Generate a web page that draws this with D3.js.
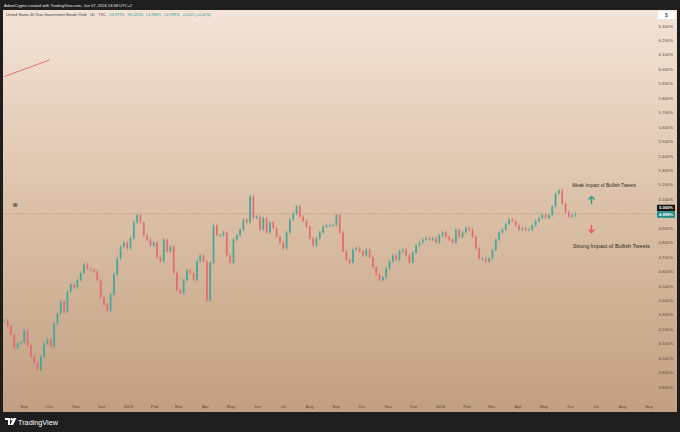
<!DOCTYPE html>
<html><head><meta charset="utf-8">
<script src="https://cdn.jsdelivr.net/npm/d3@7/dist/d3.min.js"></script>
<style>html,body{margin:0;padding:0;background:#1e1e1e;}svg{display:block;}</style>
</head><body>
<svg id="c" width="680" height="432"></svg>
<script>
// ---- data ----
const closes = [
4.26,4.22,4.16,4.07,4.10,4.11,4.19,4.09,4.01,3.97,3.92,4.01,4.10,4.13,4.08,4.24,4.31,4.39,4.32,4.46,
4.51,4.49,4.54,4.59,4.65,4.62,4.61,4.60,4.54,4.42,4.37,4.33,4.44,4.58,4.69,4.77,4.80,4.76,4.83,4.94,
4.99,4.94,4.85,4.82,4.78,4.80,4.70,4.67,4.82,4.74,4.77,4.59,4.47,4.45,4.54,4.61,4.59,4.54,4.67,4.71,
4.67,4.40,4.66,4.92,4.85,4.85,4.87,4.71,4.66,4.82,4.85,4.89,4.96,4.94,5.12,4.97,4.98,4.89,4.97,4.87,
4.94,4.90,4.84,4.80,4.76,4.87,4.96,5.00,5.05,4.98,4.95,4.91,4.83,4.78,4.83,4.87,4.91,4.92,4.92,4.92,
4.99,4.87,4.74,4.68,4.66,4.75,4.76,4.74,4.71,4.75,4.70,4.63,4.58,4.54,4.56,4.62,4.67,4.71,4.68,4.74,
4.75,4.71,4.66,4.73,4.78,4.80,4.82,4.83,4.82,4.83,4.80,4.85,4.87,4.84,4.82,4.80,4.89,4.84,4.87,4.90,
4.89,4.84,4.76,4.69,4.69,4.67,4.69,4.75,4.82,4.87,4.89,4.93,4.96,4.95,4.92,4.89,4.90,4.89,4.89,4.92,
4.95,4.97,4.99,4.97,4.99,5.05,5.14,5.16,5.07,5.01,4.98,4.99,4.999
];
const firstDate = new Date(2022, 7, 9);
const lastDate = new Date(2024, 5, 7);
const yTicks = [3.8,3.9,4.0,4.1,4.2,4.3,4.4,4.5,4.6,4.7,4.8,4.9,5.1,5.2,5.3,5.4,5.5,5.6,5.7,5.8,5.9,6.0,6.1,6.2,6.3];
const lineLevel = 5.0;
const lastPrice = 4.999;
const monthNames = ["Jan","Feb","Mar","Apr","May","Jun","Jul","Aug","Sep","Oct","Nov","Dec"];
const headerText = "AdamCrypto created with TradingView.com, Jun 07, 2024 13:08 UTC+2";
const titleParts = [
  ["United States 30 Year Government Bonds Yield · 1D · TVC", "#3b3b3b"],
  ["O4.979%","#2a9d8f"],["H5.025%","#2a9d8f"],
  ["L4.968%","#2a9d8f"],["C4.999%","#2a9d8f"],["+0.021 (+0.42%)","#2a9d8f"]
];
const trendDates = [new Date(2022,7,9), new Date(2022,9,1)];
const trendVals = [5.95, 6.065];

// ---- chart ----
const svg = d3.select("#c");
const W = 680, H = 432;
const panel = {x:3, y:10, w:674, h:402};
const FONT = "Liberation Sans, Arial, sans-serif";

const x = d3.scaleTime().domain([new Date(2022,8,1), new Date(2024,8,1)]).range([24, 649]);
const y = d3.scaleLinear().domain([3.8, 6.3]).range([387, 26]);

const defs = svg.append("defs");
const g = defs.append("linearGradient").attr("id","bg").attr("x1",0).attr("y1",0).attr("x2",0).attr("y2",1);
g.append("stop").attr("offset","0%").attr("stop-color","#f4e4d8");
g.append("stop").attr("offset","50%").attr("stop-color","#dbc0a7");
g.append("stop").attr("offset","100%").attr("stop-color","#c29f81");

svg.append("rect").attr("width",W).attr("height",H).attr("fill","#1e1e1e");
svg.append("rect").attr("x",panel.x).attr("y",panel.y).attr("width",panel.w).attr("height",panel.h).attr("fill","url(#bg)");

// header
svg.append("text").attr("x",4).attr("y",7).attr("font-family",FONT)
  .attr("font-size",4.4).attr("fill","#e6e6e6").attr("textLength",128).attr("lengthAdjust","spacingAndGlyphs").text(headerText);

// title: pieces laid out one after another, scaled to the reference width
(function(){
  const target = 205, x0 = 6;
  const els = titleParts.map(p => svg.append("text").attr("y",16).attr("font-family",FONT)
      .attr("font-size",4.3).attr("fill",p[1]).text(p[0]));
  const lens = els.map(e => e.node().getComputedTextLength());
  const gaps = titleParts.length - 1;
  const total = d3.sum(lens) + 3*gaps;
  const k = target/total;
  let cx = x0;
  els.forEach((e,i) => {
    e.attr("font-size", 4.3*k).attr("x", cx);
    cx += lens[i]*k + 3*k;
  });
})();

// dollar box
svg.append("rect").attr("x",658).attr("y",11).attr("width",17).attr("height",8).attr("fill","#ffffff").attr("rx",1);
svg.append("text").attr("x",666.5).attr("y",17).attr("text-anchor","middle").attr("font-family",FONT)
  .attr("font-size",5).attr("fill","#333").text("$");

// y axis labels
const fmt = d3.format(".3f");
svg.append("g").selectAll("text").data(yTicks).join("text")
  .attr("x",673).attr("y",d=>y(d)+1.6).attr("text-anchor","end")
  .attr("font-family",FONT).attr("font-size",4.3).attr("fill","#5a4a3e")
  .text(d=>fmt(d)+"%");

// x axis labels
const months = d3.timeMonth.range(new Date(2022,8,1), new Date(2024,8,2));
svg.append("g").selectAll("text").data(months).join("text")
  .attr("x",d=>x(d)).attr("y",408).attr("text-anchor","middle")
  .attr("font-family",FONT).attr("font-size",4.3).attr("fill","#5a4a3e")
  .text(d=>d.getMonth()===0 ? String(d.getFullYear()) : monthNames[d.getMonth()]);

// horizontal dotted line
svg.append("line").attr("x1",panel.x).attr("x2",657).attr("y1",y(lineLevel)).attr("y2",y(lineLevel))
  .attr("stroke","#a8805f").attr("stroke-width",0.6).attr("stroke-dasharray","1,1.2");
svg.append("text").attr("x",13).attr("y",207).attr("font-family",FONT)
  .attr("font-size",4.5).attr("font-weight","bold").attr("fill","#3a3a3a").text("W");

// trend line top-left
svg.append("line").attr("x1",x(trendDates[0])).attr("y1",y(trendVals[0])).attr("x2",x(trendDates[1])).attr("y2",y(trendVals[1]))
  .attr("stroke","#e05555").attr("stroke-width",0.8);

// candles
const N = closes.length;
const step = (lastDate - firstDate)/(N-1);
const data = closes.map((c,i)=>({date:new Date(+firstDate + i*step), open: i===0 ? c : closes[i-1], close:c}));
const bw = 1.7;
const col = d => d.close>=d.open ? "#45a797" : "#e36d6d";
const cg = svg.append("g");
cg.selectAll("line").data(data).join("line")
  .attr("x1",d=>x(d.date)).attr("x2",d=>x(d.date))
  .attr("y1",d=>Math.min(y(d.open),y(d.close))-1.8)
  .attr("y2",d=>Math.max(y(d.open),y(d.close))+1.8)
  .attr("stroke",col).attr("stroke-width",0.6);
cg.selectAll("rect").data(data).join("rect")
  .attr("x",d=>x(d.date)-bw/2)
  .attr("y",d=>Math.min(y(d.open),y(d.close)))
  .attr("width",bw)
  .attr("height",d=>Math.max(1,Math.abs(y(d.open)-y(d.close))))
  .attr("fill",col);

// price labels
svg.append("rect").attr("x",657).attr("y",y(lineLevel)-9).attr("width",18).attr("height",6.5).attr("fill","#111");
svg.append("text").attr("x",666).attr("y",y(lineLevel)-4.3).attr("text-anchor","middle").attr("font-family",FONT)
  .attr("font-size",4.2).attr("font-weight","bold").attr("fill","#fff").text(fmt(lineLevel)+"%");
svg.append("rect").attr("x",657).attr("y",y(lastPrice)-2.5).attr("width",18).attr("height",6.5).attr("fill","#1f8f8a");
svg.append("text").attr("x",666).attr("y",y(lastPrice)+2.2).attr("text-anchor","middle").attr("font-family",FONT)
  .attr("font-size",4.2).attr("font-weight","bold").attr("fill","#fff").text(fmt(lastPrice)+"%");

// annotations
svg.append("text").attr("x",572).attr("y",187).attr("font-family",FONT)
  .attr("font-size",5.6).attr("fill","#2e2a26").attr("textLength",64).attr("lengthAdjust","spacingAndGlyphs").text("Weak Impact of Bullish Tweets");
svg.append("text").attr("x",573).attr("y",248).attr("font-family",FONT)
  .attr("font-size",5.6).attr("fill","#2e2a26").attr("textLength",77).attr("lengthAdjust","spacingAndGlyphs").text("Strong Impact of Bullish Tweets");
// arrows
function arrow(cx, y0, y1, c){
  const dir = y1<y0 ? -1 : 1;
  svg.append("line").attr("x1",cx).attr("x2",cx).attr("y1",y0).attr("y2",y1-dir*1.5).attr("stroke",c).attr("stroke-width",1.3);
  svg.append("path").attr("d",`M${cx-3},${y1-dir*3}L${cx},${y1}L${cx+3},${y1-dir*3}`).attr("fill","none").attr("stroke",c).attr("stroke-width",1.3);
}
arrow(591.5, 204, 196.5, "#1f9e7e");
arrow(591.5, 225, 232.5, "#e84d5b");

// footer logo
const logo = svg.append("g").attr("transform","translate(5,418)");
logo.append("path").attr("d","M0,0H5V7H3V2H0Z").attr("fill","#fff");
logo.append("circle").attr("cx",6.6).attr("cy",1.2).attr("r",1.2).attr("fill","#fff");
logo.append("path").attr("d","M8.5,0H11.5L8,7H5.2Z").attr("fill","#fff");
svg.append("text").attr("x",18).attr("y",425).attr("font-family",FONT)
  .attr("font-size",8).attr("fill","#ffffff").attr("textLength",40).attr("lengthAdjust","spacingAndGlyphs").text("TradingView");
</script>
</body></html>
